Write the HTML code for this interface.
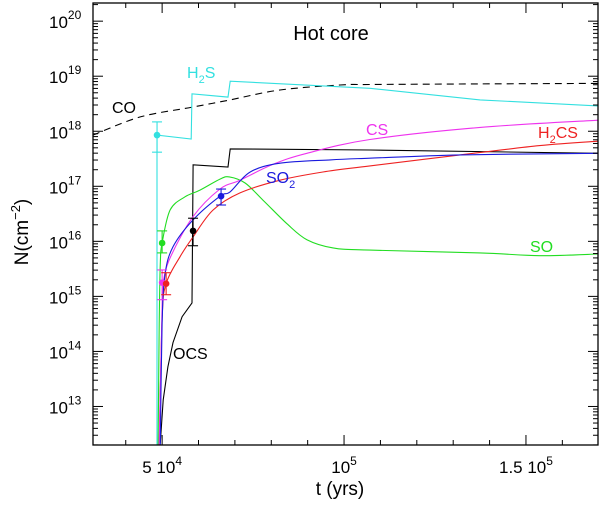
<!DOCTYPE html>
<html><head><meta charset="utf-8"><style>
html,body{margin:0;padding:0;background:#fff;}
svg{display:block;font-family:"Liberation Sans",sans-serif;}
</style></head><body>
<svg id="chart" width="600" height="505" viewBox="0 0 600 505"></svg>
<script>
// time in units of 1e4 yr, log10 N
const xTicksMajor = [5, 10, 15];
const xTickLabels = ["5 10", "10", "1.5 10"];
const xTickExp = ["4", "5", "5"];
const yDecades = [13, 14, 15, 16, 17, 18, 19, 20];
const coT = [3.10,4.40,5.85,6.87,8.24,9.89,10.71,13.74,16.98];
const coL = [17.93,18.26,18.44,18.57,18.75,18.84,18.85,18.86,18.87];
const h2sT = [4.86,4.86,5.80,5.82,6.81,6.87,10.71,13.74,16.98];
const h2sL = [12.30,17.93,17.86,18.68,18.62,18.91,18.78,18.57,18.46];
const ocsT = [4.95,5.03,5.16,5.30,5.55,5.82,5.85,6.81,6.87,10.71,16.98];
const ocsL = [12.34,13.12,13.72,14.16,14.63,14.88,17.39,17.35,17.68,17.66,17.60];
const soT = [4.89,4.92,4.95,5.0,5.22,5.63,6.04,6.59,6.85,7.28,7.77,8.43,8.98,9.70,10.71,13.74,15.38,16.98];
const soL = [12.30,14.5,15.6,15.97,16.57,16.81,16.93,17.13,17.17,17.06,16.75,16.32,16.03,15.88,15.84,15.79,15.74,15.77];
const so2T = [4.95,5.0,5.08,5.30,5.85,6.59,6.87,7.42,8.24,9.62,10.71,13.19,16.98];
const so2L = [12.30,14.5,15.4,15.90,16.39,16.82,16.90,17.26,17.42,17.48,17.51,17.57,17.60];
const csT = [4.92,5.0,5.03,5.22,5.85,6.59,7.14,8.05,8.98,10.71,13.74,16.98];
const csL = [12.30,14.8,15.25,15.7,16.45,16.95,17.11,17.40,17.60,17.85,18.07,18.20];
const h2csT = [4.92,5.0,5.11,5.49,5.85,6.40,7.14,8.24,9.42,10.71,13.19,15.38,16.98];
const h2csL = [12.30,14.6,15.23,15.72,16.08,16.57,16.88,17.11,17.26,17.37,17.57,17.74,17.82];
const obsNames = ["h2s","so","cs","h2cs","ocs","so2"];
const obsT = [4.86,5.0,5.0,5.11,5.85,6.62];
const obsL = [17.93,15.97,15.25,15.23,16.19,16.82];
const obsLo = [17.62,15.79,14.94,15.03,15.92,16.66];
const obsHi = [18.17,16.19,15.48,15.43,16.42,16.95];
const obsColor = ["#33e0e0","#22dd22","#ee33ee","#ee2222","#000000","#1a1add"];

const L=93,R=598,T=3,B=445;
const x0=3.10,x1=16.98,y0=12.30,y1=20.33;
const X=t=>L+(t-x0)/(x1-x0)*(R-L);
const Y=l=>B-(l-y0)/(y1-y0)*(B-T);
const svg=document.getElementById('chart');
const NS='http://www.w3.org/2000/svg';
function mk(tag,attrs,parent){const e=document.createElementNS(NS,tag);for(const k in attrs)e.setAttribute(k,attrs[k]);(parent||svg).appendChild(e);return e;}

const clip=mk('clipPath',{id:'cp'});mk('rect',{x:L,y:T,width:R-L,height:B-T},clip);
const g=mk('g',{'clip-path':'url(#cp)'});
function pathD(ts,ls,smooth){
  const P=ts.map((t,i)=>[X(t),Y(ls[i])]);
  if(!smooth) return P.map((p,i)=>(i?'L':'M')+p[0].toFixed(1)+' '+p[1].toFixed(1)).join(' ');
  let d='M'+P[0][0].toFixed(1)+' '+P[0][1].toFixed(1);
  for(let i=0;i<P.length-1;i++){
    const p0=P[i-1]||P[i],p1=P[i],p2=P[i+1],p3=P[i+2]||P[i+1];
    const c1=[p1[0]+(p2[0]-p0[0])/6,p1[1]+(p2[1]-p0[1])/6];
    const c2=[p2[0]-(p3[0]-p1[0])/6,p2[1]-(p3[1]-p1[1])/6];
    d+=' C'+c1[0].toFixed(1)+' '+c1[1].toFixed(1)+' '+c2[0].toFixed(1)+' '+c2[1].toFixed(1)+' '+p2[0].toFixed(1)+' '+p2[1].toFixed(1);
  }
  return d;
}
function seriesG(ts,ls,color,name,dash,smooth){
  const p=mk('path',{d:pathD(ts,ls,smooth),fill:'none',stroke:color,'stroke-width':1.1},g);
  if(dash)p.setAttribute('stroke-dasharray',dash);
  
  
}
seriesG(coT,coL,'#000','co-line','7,5',true);
seriesG(h2sT,h2sL,'#33e0e0','h2s-line');
seriesG(ocsT,ocsL,'#000','ocs-line');
seriesG(soT,soL,'#22dd22','so-line',null,true);
seriesG(h2csT,h2csL,'#ee2222','h2cs-line',null,true);
seriesG(csT,csL,'#ee33ee','cs-line',null,true);
seriesG(so2T,so2L,'#1a1add','so2-line',null,true);

obsT.forEach((t,i)=>{
  const gg=mk('g',{});
  
  
  const x=X(t),c=obsColor[i];
  mk('line',{x1:x,x2:x,y1:Y(obsLo[i]),y2:Y(obsHi[i]),stroke:c,'stroke-width':1.1},gg);
  mk('line',{x1:x-5,x2:x+5,y1:Y(obsLo[i]),y2:Y(obsLo[i]),stroke:c,'stroke-width':1.1},gg);
  mk('line',{x1:x-5,x2:x+5,y1:Y(obsHi[i]),y2:Y(obsHi[i]),stroke:c,'stroke-width':1.1},gg);
  mk('circle',{cx:x,cy:Y(obsL[i]),r:3.3,fill:c},gg);
});

const fr=mk('rect',{x:L,y:T,width:R-L,height:B-T,fill:'none',stroke:'#000','stroke-width':1.3});


for(let t=4;t<=16;t++){
  const maj=xTicksMajor.includes(t);const len=maj?10:5;const x=X(t);
  mk('line',{x1:x,x2:x,y1:B,y2:B-len,stroke:'#000','stroke-width':1});
  mk('line',{x1:x,x2:x,y1:T,y2:T+len,stroke:'#000','stroke-width':1});
}
xTicksMajor.forEach((t,i)=>{
  const tx=mk('text',{x:X(t),y:473,'font-size':17,'text-anchor':'middle'});
  
  
  tx.textContent=xTickLabels[i];
  const s=mk('tspan',{dy:-8,'font-size':12},tx);s.textContent=xTickExp[i];
});
for(let d=12;d<=20;d++){
  for(let m=1;m<=9;m++){
    const l=d+Math.log10(m);if(l<y0||l>y1)continue;
    const len=m===1?10:5;const y=Y(l);
    mk('line',{x1:L,x2:L+len,y1:y,y2:y,stroke:'#000','stroke-width':1});
    mk('line',{x1:R,x2:R-len,y1:y,y2:y,stroke:'#000','stroke-width':1});
  }
}
yDecades.forEach(d=>{
  const tx=mk('text',{x:49,y:Y(d)+7,'font-size':17});
  
  
  tx.textContent='10';
  const s=mk('tspan',{dy:-9,'font-size':12},tx);s.textContent=String(d);
});
</script>
<svg width="600" height="505" style="position:absolute;left:0;top:0">
<g font-family="Liberation Sans, sans-serif">
<text x="331" y="40" font-size="20" text-anchor="middle">Hot core</text>
<text x="340" y="495" font-size="19" text-anchor="middle">t (yrs)</text>
<text transform="translate(28,232) rotate(-90)" font-size="19" text-anchor="middle">N(cm<tspan dy="-8" font-size="13">−2</tspan><tspan dy="8">)</tspan></text>
<text x="187" y="78" font-size="16" fill="#33e0e0">H<tspan dy="5" font-size="11">2</tspan><tspan dy="-5">S</tspan></text>
<text x="112" y="113" font-size="16" fill="#000">CO</text>
<text x="173" y="359" font-size="16" fill="#000">OCS</text>
<text x="366" y="135" font-size="16" fill="#ee33ee">CS</text>
<text x="538" y="138" font-size="16" fill="#ee2222">H<tspan dy="5" font-size="11">2</tspan><tspan dy="-5">CS</tspan></text>
<text x="266" y="183" font-size="16" fill="#1a1add">SO<tspan dy="5" font-size="11">2</tspan></text>
<text x="530" y="252" font-size="16" fill="#22dd22">SO</text>
</g></svg>
</body></html>
